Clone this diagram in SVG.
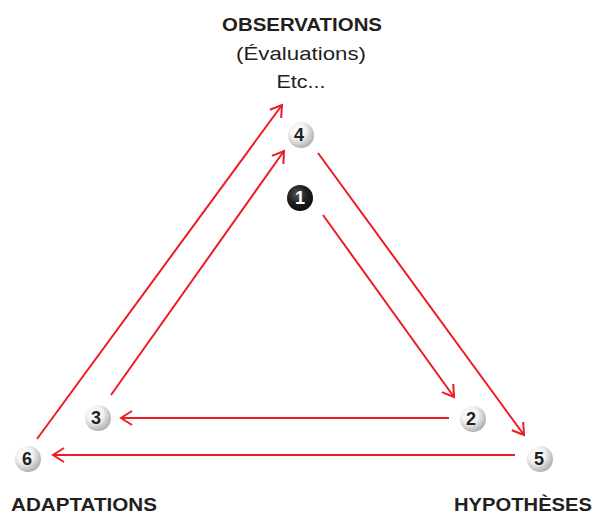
<svg xmlns="http://www.w3.org/2000/svg" width="593" height="516" viewBox="0 0 593 516">
<style>
.lbl{font-family:"Liberation Sans",Arial,sans-serif;fill:#231f20;text-anchor:middle}
.b{font-weight:bold}
.num{font-family:"Liberation Sans",Arial,sans-serif;font-weight:bold;font-size:18px;fill:#222;text-anchor:middle}
.conn{stroke:#ed1c24;stroke-width:2;fill:none;marker-end:url(#ah)}
</style>
<defs>
<radialGradient id="ball" cx="0.38" cy="0.35" r="0.7">
<stop offset="0" stop-color="#ffffff"/>
<stop offset="0.45" stop-color="#f2f2f2"/>
<stop offset="1" stop-color="#a9a9a9"/>
</radialGradient>
<radialGradient id="dark" cx="0.4" cy="0.35" r="0.7">
<stop offset="0" stop-color="#555"/>
<stop offset="0.5" stop-color="#222"/>
<stop offset="1" stop-color="#0a0a0a"/>
</radialGradient>
<marker id="ah" markerUnits="userSpaceOnUse" markerWidth="20" markerHeight="20" refX="0" refY="0" viewBox="-14 -10 16 20" orient="auto">
<path d="M-11,-7 L0,0 L-11,7" fill="none" stroke="#ed1c24" stroke-width="2"/>
</marker>
</defs>
<g id="connectors">
<line class="conn" x1="37" y1="439" x2="282" y2="105"/>
<line class="conn" x1="111" y1="395" x2="284" y2="151"/>
<line class="conn" x1="318" y1="153" x2="524" y2="435"/>
<line class="conn" x1="323" y1="215" x2="454" y2="397"/>
<line class="conn" x1="449" y1="418" x2="121" y2="418"/>
<line class="conn" x1="515" y1="455" x2="53" y2="455"/>
</g>
<g id="label-observations">
<text class="lbl b" x="302" y="31" font-size="19" textLength="160" lengthAdjust="spacingAndGlyphs">OBSERVATIONS</text>
<text class="lbl" x="301" y="60" font-size="19" textLength="130" lengthAdjust="spacingAndGlyphs">(Évaluations)</text>
<text class="lbl" x="301" y="88" font-size="19" textLength="49" lengthAdjust="spacingAndGlyphs">Etc...</text>
</g>
<g id="label-adaptations">
<text class="lbl b" x="84" y="511" font-size="19" textLength="146" lengthAdjust="spacingAndGlyphs">ADAPTATIONS</text>
</g>
<g id="label-hypotheses">
<text class="lbl b" x="523" y="511" font-size="19" textLength="138" lengthAdjust="spacingAndGlyphs">HYPOTHÈSES</text>
</g>
<g id="node-4"><circle cx="301" cy="135" r="13" fill="url(#ball)"/><text class="num" x="299" y="141">4</text></g>
<g id="node-1"><circle cx="300" cy="198" r="13" fill="url(#dark)"/><text class="num" x="300" y="204" style="fill:#fff">1</text></g>
<g id="node-2"><circle cx="473" cy="419" r="13" fill="url(#ball)"/><text class="num" x="471" y="425">2</text></g>
<g id="node-3"><circle cx="98" cy="418" r="13" fill="url(#ball)"/><text class="num" x="96" y="424">3</text></g>
<g id="node-6"><circle cx="28" cy="459" r="13" fill="url(#ball)"/><text class="num" x="27" y="465">6</text></g>
<g id="node-5"><circle cx="540" cy="459" r="13" fill="url(#ball)"/><text class="num" x="539" y="465">5</text></g>
</svg>
